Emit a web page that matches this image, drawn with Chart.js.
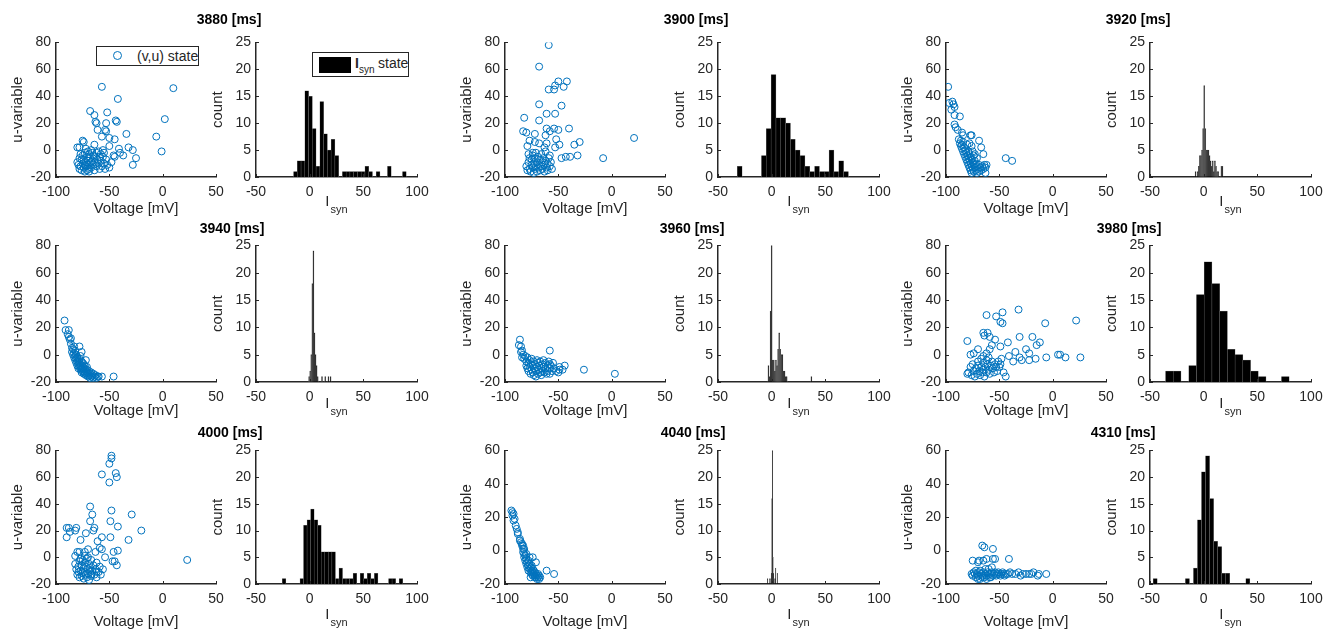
<!DOCTYPE html>
<html>
<head>
<meta charset="utf-8">
<title>state snapshots</title>
<script src="https://cdn.jsdelivr.net/npm/chart.js@4.4.0/dist/chart.umd.min.js"></script>
<style>
  body { margin: 0; background: #fff; font-family: "Liberation Sans", Arial, sans-serif; }
  #page { position: relative; width: 1333px; height: 632px; overflow: hidden; background: #fff; }
  canvas { position: absolute; }
  .ttl { position: absolute; font-weight: bold; font-size: 14px; color: #000; transform: translate(-50%, -50%); white-space: nowrap; }
  .lgd { position: absolute; border: 1px solid #262626; background: #fff; box-sizing: border-box; color: #262626; font-size: 14px; }
  .lgd span { position: absolute; white-space: nowrap; }
</style>
</head>
<body>
<div id="page"></div>
<script>
'use strict';

// Data: (v,u) points per snapshot
var scatter3880 = [[-57,47],[10,46],[-42,38],[-68,29],[-64,26],[-52,28],[-62,20],[-63,21],[-53,20],[-44,22],[-43,21],[-61,15],[-54,15],[-53,14],[2,23],[-34,12],[-57,10],[-50,9],[-45,8],[-6,10],[-1,-1],[-32,2],[-28,0],[-25,-6],[-28,-11],[-41,1],[-50,3],[-56,0],[-40,-2],[-37,-4],[-45,-5],[-80,2],[-75,7],[-74,6],[-64,4],[-78,2],[-72,1],[-67,0],[-60,-1],[-58,-3],
  [-80,-9],[-79,-11],[-78,-14],[-77,-12],[-76,-15],[-75,-10],[-75,-4],[-74,-7],[-74,-13],[-73,-16],[-73,-2],[-72,-9],[-72,-12],[-71,-5],[-71,-15],[-70,-8],[-70,-11],[-69,-3],[-69,-14],[-68,-6],[-68,-10],[-67,-13],[-66,-8],[-66,-2],[-65,-11],[-64,-15],[-64,-5],[-63,-9],[-62,-12],[-61,-7],[-60,-10],[-59,-14],[-58,-8],[-57,-12],[-56,-5],[-55,-10],[-54,-14],[-52,-11],[-50,-13],[-48,-9],[-46,-4],[-76,-7],[-77,-3],[-70,-1],[-65,-4],[-62,-2],[-78,-6],[-73,-11],[-69,-16],[-67,-9],[-59,-5],[-55,-2],[-53,-7]];
var scatter3900 = [[-59,78],[-68,62],[-50,51],[-42,51],[-53,48],[-45,47],[-59,45],[-54,45],[-68,34],[-47,33],[-61,27],[-53,27],[-82,24],[-68,22],[-61,16],[-54,16],[-50,15],[-40,16],[-83,14],[-80,13],[21,9],[-72,12],[-62,11],[-58,14],[-52,8],[-77,7],[-72,6],[-68,5],[-61,5],[-49,4],[-35,4],[-30,6],[-8,-6],[-32,-4],[-39,-5],[-43,-5],[-47,-6],[-53,2],[-58,-4],[-63,2],[-79,3],[-78,-3],[-74,-2],
  [-80,-12],[-79,-15],[-78,-9],[-77,-14],[-76,-16],[-75,-11],[-75,-7],[-74,-13],[-73,-17],[-73,-10],[-72,-6],[-72,-14],[-71,-12],[-70,-16],[-70,-9],[-69,-5],[-69,-13],[-68,-11],[-67,-15],[-67,-7],[-66,-12],[-65,-9],[-65,-14],[-64,-6],[-63,-11],[-63,-16],[-62,-8],[-61,-13],[-60,-10],[-60,-15],[-59,-6],[-58,-12],[-57,-9],[-56,-14],[-74,-4],[-71,-2],[-66,-3],[-62,-1],[-77,-6]];
var scatter3920 = [[-98,47],[-97,35],[-94,36],[-93,34],[-95,30],[-92,32],[-92,26],[-87,25],[-92,19],[-91,17],[-89,15],[-85,13],[-84,11],[-77,11],[-76,11],[-69,7],[-67,2],[-65,-3],[-44,-6],[-38,-8],[-63,-17],[-62,-11],
  [-88,8],[-87,5],[-86,7],[-86,3],[-85,4],[-85,1],[-84,6],[-84,-1],[-83,2],[-83,-3],[-82,0],[-82,-5],[-81,-2],[-81,-7],[-80,4],[-80,-4],[-80,-9],[-79,-1],[-79,-6],[-79,-11],[-78,-3],[-78,-8],[-78,-13],[-77,-5],[-77,-10],[-77,-15],[-76,-7],[-76,-12],[-76,-17],[-75,-9],[-75,-14],[-74,-4],[-74,-11],[-74,-16],[-73,-8],[-73,-13],[-72,-15],[-72,-10],[-71,-12],[-71,-17],[-70,-14],[-69,-11],[-69,-16],[-68,-13],[-67,-15],[-66,-12],[-65,-14],[-64,-11],[-63,-13],[-78,5],[-76,3],[-75,-1],[-73,-3],[-71,-6]];
var scatter3940 = [[-92,25],[-91,18],[-88,18],[-89,15],[-88,13],[-87,11],[-86,12],[-83,6],[-78,6],[-76,2],[-72,-4],[-60,-16],[-46,-16],[-57,-16],[-73,-14],
  [-86,8],[-85,5],[-85,2],[-84,4],[-84,0],[-83,1],[-83,-2],[-82,3],[-82,-1],[-82,-4],[-81,0],[-81,-3],[-81,-6],[-80,-2],[-80,-5],[-80,-8],[-79,-4],[-79,-7],[-79,-10],[-78,-3],[-78,-6],[-78,-9],[-77,-8],[-77,-11],[-76,-5],[-76,-10],[-76,-13],[-75,-9],[-75,-12],[-74,-7],[-74,-11],[-74,-14],[-73,-10],[-73,-13],[-72,-12],[-72,-15],[-71,-11],[-71,-14],[-70,-13],[-70,-16],[-69,-12],[-69,-15],[-68,-14],[-68,-17],[-67,-13],[-67,-16],[-66,-15],[-65,-14],[-65,-17],[-64,-16],[-63,-15],[-62,-17],[-61,-16],[-77,-1],[-75,-6],[-73,-8],[-71,-9]];
var scatter3960 = [[-86,11],[-87,7],[-85,6],[-84,3],[-58,3],[-26,-11],[3,-14],[-44,-8],[-49,-9],[-49,-11],[-46,-11],[-50,-13],[-58,-7],
  [-83,0],[-82,-3],[-81,-1],[-80,-5],[-80,-8],[-79,-2],[-79,-10],[-78,-6],[-78,-12],[-77,-4],[-77,-9],[-76,-14],[-76,-7],[-75,-11],[-75,-3],[-74,-8],[-74,-13],[-73,-5],[-73,-15],[-72,-10],[-72,-7],[-71,-12],[-71,-16],[-70,-4],[-70,-9],[-69,-14],[-69,-6],[-68,-11],[-68,-8],[-67,-13],[-67,-5],[-66,-10],[-66,-15],[-65,-7],[-65,-12],[-64,-9],[-64,-4],[-63,-13],[-62,-6],[-62,-10],[-61,-14],[-60,-8],[-60,-12],[-59,-5],[-58,-10],[-58,-14],[-57,-8],[-56,-12],[-55,-6],[-54,-10],[-52,-12],[-85,2],[-84,-2]];
var scatter3980 = [[-32,33],[-47,31],[-49,24],[-47,23],[-62,29],[-53,28],[22,25],[-7,23],[-80,10],[-65,16],[-64,14],[-59,13],[-61,16],[-54,11],[-31,13],[-19,13],[-12,9],[-15,7],[-42,9],[-49,6],[-57,7],[-59,4],[-25,4],[-22,1],[-35,2],[-31,-2],[-16,-3],[-6,-2],[5,0],[7,0],[12,-2],[26,-2],[-29,-4],[-22,-4],[-37,-5],[-41,-1],[-48,-3],[-46,-13],[-44,-16],[-77,0],[-70,4],[-74,1],
  [-80,-14],[-79,-13],[-77,-9],[-76,-15],[-75,-7],[-74,-12],[-73,-16],[-72,-10],[-71,-14],[-70,-8],[-70,-5],[-69,-12],[-68,-15],[-67,-9],[-67,-3],[-66,-13],[-65,-6],[-65,-11],[-64,-16],[-63,-9],[-62,-13],[-62,-4],[-61,-7],[-60,-11],[-59,-14],[-58,-8],[-57,-5],[-56,-10],[-55,-13],[-54,-7],[-53,-9],[-52,-12],[-51,-5],[-50,-9],[-49,-7],[-65,-1],[-62,1],[-60,-2]];
var scatter4000 = [[-48,76],[-48,74],[-50,70],[-57,62],[-44,63],[-43,60],[-50,56],[-68,38],[-66,32],[-68,27],[-64,22],[-65,20],[-48,35],[-49,27],[-29,32],[-42,23],[-20,20],[-90,22],[-88,22],[-87,19],[-81,22],[-82,20],[-90,15],[-77,13],[-72,18],[-57,15],[-49,15],[-32,13],[-61,12],[-59,7],[-57,6],[23,-2],[-42,5],[-46,4],[-54,0],[-63,4],[-73,4],[-78,4],[-80,4],[-82,1],[-70,6],[-43,-6],[-47,-3],[-45,-3],[-56,-9],[-62,-11],[-67,-13],
  [-82,-5],[-81,-9],[-80,-13],[-79,-7],[-79,-11],[-78,-15],[-78,-3],[-77,-10],[-76,-6],[-76,-14],[-75,-12],[-75,-2],[-74,-8],[-74,-16],[-73,-11],[-73,-4],[-72,-13],[-72,-7],[-71,-15],[-71,-1],[-70,-9],[-70,-12],[-69,-5],[-69,-17],[-68,-11],[-68,-8],[-67,-14],[-67,-2],[-66,-10],[-65,-6],[-64,-13],[-63,-9],[-62,-15],[-62,-4],[-60,-11],[-59,-7],[-58,-13],[-77,-1],[-73,1],[-70,0]];
var scatter4040 = [[-94,24],[-93,23],[-93,21],[-92,18],[-90,15],[-88,10],[-86,7],[-84,4],[-83,3],[-82,1],[-61,-12],[-54,-14],[-74,-4],[-71,-7],[-76,-16],
  [-84,3],[-83,1],[-83,-1],[-82,-2],[-82,-4],[-81,-3],[-81,-6],[-80,-5],[-80,-8],[-79,-7],[-79,-10],[-78,-6],[-78,-9],[-78,-12],[-77,-8],[-77,-11],[-76,-10],[-76,-13],[-75,-9],[-75,-12],[-75,-14],[-74,-11],[-74,-13],[-74,-15],[-73,-12],[-73,-14],[-72,-13],[-72,-15],[-72,-16],[-71,-14],[-71,-16],[-70,-15],[-70,-17],[-69,-14],[-69,-16],[-68,-15],[-68,-17],[-67,-16],[-85,5],[-86,6],[-88,11],[-89,13],[-91,19],[-92,22],[-80,-2],[-77,-4]];
var scatter4310 = [[-66,3],[-64,2],[-56,1],[-75,-6],[-70,-7],[-69,-6],[-65,-6],[-62,-5],[-56,-5],[-54,-5],[-41,-5],[-57,-10],[-63,-11],
  [-76,-14],[-75,-15],[-74,-13],[-73,-14],[-72,-16],[-71,-14],[-70,-15],[-69,-13],[-68,-17],[-67,-14],[-66,-15],[-65,-13],[-64,-16],[-63,-14],[-62,-15],[-61,-13],[-60,-14],[-59,-16],[-58,-14],[-57,-13],[-56,-15],[-55,-14],[-54,-13],[-53,-15],[-52,-14],[-51,-13],[-50,-14],[-49,-15],[-48,-14],[-47,-13],[-46,-14],[-45,-15],[-44,-14],[-42,-14],[-40,-13],[-38,-14],[-35,-14],[-32,-13],[-30,-15],[-28,-14],[-25,-14],[-22,-14],[-20,-14],[-18,-13],[-14,-15],[-13,-14],[-6,-14],[-70,-17],[-66,-16],[-62,-17],[-58,-16],[-72,-12],[-68,-12],[-60,-11]];

// I_syn histograms: first bin edge, bin width, counts
var binStart3880 = -15, binWidth3880 = 3.5;
var counts3880 = [1,3,3,16,15,9,2,14,8,5,7,4,0,1,1,1,1,1,1,2,1,0,1,0,0,2,0,0,0,1];
var binStart3900 = -32, binWidth3900 = 4.5;
var counts3900 = [2,0,0,0,0,4,9,19,11,11,10,7,5,4,2,1,2,1,1,5,1,3,1];
var binStart3920 = -8, binWidth3920 = 1;
var counts3920 = [1,0,1,2,4,4,5,9,17,9,5,5,5,4,3,2,3,1,3,2,1,1,0,0,2,2];
var binStart3940 = -1, binWidth3940 = 1;
var counts3940 = [1,2,5,18,24,9,5,3,1,0,0,0,1,0,0,1,0,0,1,0,1];
var binStart3960 = -3.5, binWidth3960 = 1;
var counts3960 = [3,1,13,25,4,4,2,4,3,6,9,6,5,5,2,2,1,1,0,0,0,0,0,0,0,0,0,0,0,0,0,0,0,0,0,0,0,0,0,0,1];
var binStart3980 = -35.5, binWidth3980 = 7.2;
var counts3980 = [2,2,0,3,16,22,18,13,6,5,4,2,1,0,0,1];
var binStart4000 = -25.5, binWidth4000 = 3.3;
var counts4000 = [1,0,0,0,0,1,11,12,14,12,11,6,6,6,6,1,3,1,1,1,2,0,2,1,2,1,2,0,0,0,1,1,0,1];
var binStart4040 = -4, binWidth4040 = 0.5;
var counts4040 = [1,0,0,0,1,0,1,2,16,25,5,2,1,0,1,3,0,0,2,0];
var binStart4310 = -47, binWidth4310 = 3.75;
var counts4310 = [1,0,0,0,0,0,0,0,1,0,3,12,21,24,16,8,7,2,2,0,0,0,0,1];

var panelTimes = ['3880', '3900', '3920', '3940', '3960', '3980', '4000', '4040', '4310'];
var uMaxima = [80, 80, 80, 80, 80, 80, 80, 60, 60];
var scatterSets = [scatter3880, scatter3900, scatter3920, scatter3940, scatter3960, scatter3980, scatter4000, scatter4040, scatter4310];
var countSets = [counts3880, counts3900, counts3920, counts3940, counts3960, counts3980, counts4000, counts4040, counts4310];
var binStarts = [binStart3880, binStart3900, binStart3920, binStart3940, binStart3960, binStart3980, binStart4000, binStart4040, binStart4310];
var binWidths = [binWidth3880, binWidth3900, binWidth3920, binWidth3940, binWidth3960, binWidth3980, binWidth4000, binWidth4040, binWidth4310];

// Layout (page pixels)
var AXIS_COLOR = '#262626';
var FONT = '"Liberation Sans", Arial, sans-serif';
var SCATTER_LEFT = [56, 505, 946];
var HIST_LEFT = [256, 718, 1150];
var SCATTER_W = 160;
var HIST_W = 161;
var ROW_TOP = [41, 244, 449];
var ROW_BOTTOM = [177, 382, 584];
var ROW_XTITLE = [209, 411, 622];
var TITLE_X = [229, 696, 1138, 232, 692, 1129, 230, 693, 1123];
var TITLE_Y = [19, 19, 19, 228, 228, 228, 432, 432, 432];
var LEFT_PAD = 56;
var TOP_PAD = 12;
var RIGHT_PAD = 22;

var page = document.getElementById('page');

// MATLAB style tick marks pointing into the axes
var inwardTicks = {
  id: 'inwardTicks',
  afterDraw: function (chart) {
    var ctx = chart.ctx;
    var area = chart.chartArea;
    var sx = chart.scales.x;
    var sy = chart.scales.y;
    ctx.save();
    ctx.strokeStyle = AXIS_COLOR;
    ctx.lineWidth = 1;
    sx.ticks.forEach(function (t) {
      var px = Math.round(sx.getPixelForValue(t.value)) + 0.5;
      ctx.beginPath();
      ctx.moveTo(px, area.bottom);
      ctx.lineTo(px, area.bottom - 3);
      ctx.stroke();
    });
    sy.ticks.forEach(function (t) {
      var py = Math.round(sy.getPixelForValue(t.value)) + 0.5;
      ctx.beginPath();
      ctx.moveTo(area.left, py);
      ctx.lineTo(area.left + 3, py);
      ctx.stroke();
    });
    ctx.restore();
  }
};

// x label "I" with subscript "syn"
var isynTitle = {
  id: 'isynTitle',
  afterDraw: function (chart, args, opts) {
    var ctx = chart.ctx;
    var area = chart.chartArea;
    var cx = (area.left + area.right) / 2;
    var cy = area.bottom + opts.drop;
    ctx.save();
    ctx.fillStyle = AXIS_COLOR;
    ctx.textBaseline = 'middle';
    ctx.textAlign = 'left';
    ctx.font = '15px ' + FONT;
    var wI = ctx.measureText('I').width;
    ctx.font = '11px ' + FONT;
    var wS = ctx.measureText('syn').width;
    var x0 = cx - (wI + wS + 1) / 2;
    ctx.font = '15px ' + FONT;
    ctx.fillText('I', x0, cy - 7);
    ctx.font = '11px ' + FONT;
    ctx.fillText('syn', x0 + wI + 1, cy + 1);
    ctx.restore();
  }
};

function makeCanvas(left, top, w, h) {
  var c = document.createElement('canvas');
  c.width = w;
  c.height = h;
  c.style.left = left + 'px';
  c.style.top = top + 'px';
  c.style.width = w + 'px';
  c.style.height = h + 'px';
  page.appendChild(c);
  return c;
}

function xAxis(min, max, step, boxH, titleText) {
  return {
    type: 'linear', position: 'bottom', min: min, max: max, offset: false,
    grid: {display: false, drawTicks: false},
    border: {color: AXIS_COLOR, width: 1.5},
    ticks: {stepSize: step, color: AXIS_COLOR, font: {family: FONT, size: 14}, padding: 7, maxRotation: 0, autoSkip: false},
    title: {display: titleText !== '', text: titleText, color: AXIS_COLOR, font: {family: FONT, size: 15}, padding: 0},
    afterFit: function (scale) { scale.height = boxH; }
  };
}

function yAxis(min, max, step, titleText) {
  return {
    type: 'linear', position: 'left', min: min, max: max,
    grid: {display: false, drawTicks: false},
    border: {color: AXIS_COLOR, width: 1.5},
    ticks: {stepSize: step, color: AXIS_COLOR, font: {family: FONT, size: 14}, padding: 5},
    title: {display: true, text: titleText, color: AXIS_COLOR, font: {family: FONT, size: 15}, padding: {top: 9, bottom: 0}},
    afterFit: function (scale) { scale.width = LEFT_PAD; }
  };
}

function drawScatter(i) {
  var row = Math.floor(i / 3), col = i % 3;
  var plotH = ROW_BOTTOM[row] - ROW_TOP[row];
  var boxH = ROW_XTITLE[row] - ROW_BOTTOM[row] + 9;
  var canvas = makeCanvas(SCATTER_LEFT[col] - LEFT_PAD, ROW_TOP[row] - TOP_PAD,
    LEFT_PAD + SCATTER_W + RIGHT_PAD, TOP_PAD + plotH + boxH);
  var pts = scatterSets[i].map(function (p) { return {x: p[0], y: p[1]}; });
  new Chart(canvas.getContext('2d'), { //eslint-disable-line
    type: 'scatter',
    data: {datasets: [{
      label: '(v,u) state', data: pts,
      pointStyle: 'circle', pointRadius: 3.5, pointBorderWidth: 1,
      borderColor: '#0072BD', backgroundColor: 'rgba(0,0,0,0)'
    }]},
    options: {
      responsive: false, animation: false, events: [],
      layout: {padding: {top: TOP_PAD, right: RIGHT_PAD, left: 0, bottom: 0}},
      plugins: {legend: {display: false}, tooltip: {enabled: false}},
      scales: {
        x: xAxis(-100, 50, 50, boxH, 'Voltage [mV]'),
        y: yAxis(-20, uMaxima[i], 20, 'u-variable')
      }
    },
    plugins: [inwardTicks]
  });
}

function drawHist(i) {
  var row = Math.floor(i / 3), col = i % 3;
  var plotH = ROW_BOTTOM[row] - ROW_TOP[row];
  var boxH = ROW_XTITLE[row] - ROW_BOTTOM[row] + 9;
  var canvas = makeCanvas(HIST_LEFT[col] - LEFT_PAD, ROW_TOP[row] - TOP_PAD,
    LEFT_PAD + HIST_W + RIGHT_PAD, TOP_PAD + plotH + boxH);
  var bins = [];
  for (var k = 0; k < countSets[i].length; k++) {
    bins.push({x: binStarts[i] + binWidths[i] * (k + 0.5), y: countSets[i][k]});
  }
  new Chart(canvas.getContext('2d'), { //eslint-disable-line
    type: 'bar',
    data: {datasets: [{
      label: 'Isyn state', data: bins,
      backgroundColor: '#000', borderColor: '#6e6e6e', borderWidth: 0.5,
      barPercentage: 1, categoryPercentage: 1
    }]},
    options: {
      responsive: false, animation: false, events: [],
      layout: {padding: {top: TOP_PAD, right: RIGHT_PAD, left: 0, bottom: 0}},
      plugins: {legend: {display: false}, tooltip: {enabled: false}, isynTitle: {drop: ROW_XTITLE[row] - ROW_BOTTOM[row]}},
      scales: {
        x: xAxis(-50, 100, 50, boxH, ''),
        y: yAxis(0, 25, 5, 'count')
      }
    },
    plugins: [inwardTicks, isynTitle]
  });
}

function addTitle(i) {
  var d = document.createElement('div');
  d.className = 'ttl';
  d.textContent = panelTimes[i] + ' [ms]';
  d.style.left = TITLE_X[i] + 'px';
  d.style.top = TITLE_Y[i] + 'px';
  page.appendChild(d);
}

function addLegends() {
  var a = document.createElement('div');
  a.className = 'lgd';
  a.style.cssText = 'left:96px;top:46px;width:103px;height:20px;';
  a.innerHTML = '<span style="left:16px;top:4px;width:7px;height:7px;border:1px solid #0072BD;border-radius:50%;"></span>' +
    '<span style="left:40px;top:1px;">(v,u) state</span>';
  page.appendChild(a);

  var b = document.createElement('div');
  b.className = 'lgd';
  b.style.cssText = 'left:312px;top:52px;width:97px;height:25px;';
  b.innerHTML = '<span style="left:6px;top:4px;width:32px;height:16px;background:#000;"></span>' +
    '<span style="left:42px;top:2px;font-size:14px;font-weight:bold;">I</span>' +
    '<span style="left:46px;top:11px;font-size:10px;">syn</span>' +
    '<span style="left:65px;top:2px;">state</span>';
  page.appendChild(b);
}

for (var i = 0; i < panelTimes.length; i++) {
  drawScatter(i);
  drawHist(i);
  addTitle(i);
}
addLegends();
</script>
</body>
</html>
